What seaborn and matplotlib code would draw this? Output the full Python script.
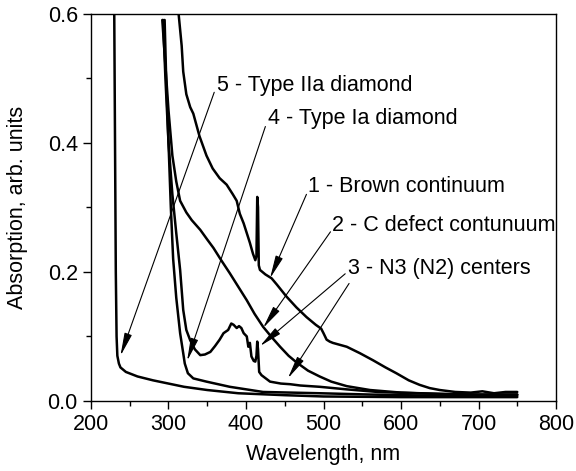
import numpy as np
import pandas as pd
import seaborn as sns
import matplotlib.pyplot as plt

# Absorption spectra
wl_1 = [313, 315, 317, 319, 323, 328, 332, 340, 349, 357, 366, 375, 383, 388, 392, 397,
        401, 405, 409, 412, 413.5, 414.5, 415.5, 416.5, 418, 425, 433, 440, 452, 465, 478,
        490, 497, 500, 504, 508, 512, 530, 547, 564, 580, 594, 610, 624, 637, 650, 670,
        690, 705, 720, 735, 750]
abs_1 = [0.60, 0.575, 0.55, 0.51, 0.475, 0.455, 0.445, 0.41, 0.38, 0.36, 0.345, 0.335, 0.32,
         0.31, 0.29, 0.275, 0.26, 0.245, 0.228, 0.218, 0.225, 0.316, 0.30, 0.21, 0.203, 0.196,
         0.19, 0.18, 0.162, 0.145, 0.13, 0.118, 0.112, 0.105, 0.095, 0.092, 0.09, 0.084,
         0.074, 0.063, 0.052, 0.043, 0.032, 0.025, 0.020, 0.017, 0.014, 0.013, 0.015, 0.012,
         0.014, 0.014]

wl_2 = [292, 296, 300, 305, 310, 315, 323, 330, 341, 350, 358, 368, 379, 390, 401, 411, 422,
        433, 444, 455, 465, 480, 495, 510, 530, 560, 600, 650, 700, 750]
abs_2 = [0.59, 0.52, 0.45, 0.38, 0.34, 0.31, 0.292, 0.28, 0.265, 0.25, 0.237, 0.218, 0.198,
         0.177, 0.156, 0.135, 0.115, 0.099, 0.084, 0.07, 0.06, 0.047, 0.038, 0.03, 0.023,
         0.017, 0.013, 0.011, 0.010, 0.010]

wl_3 = [293, 296, 300, 305, 310, 315, 319, 323, 328, 334, 341, 347, 354, 360, 366, 371, 377,
        381, 384, 388, 391, 394, 397, 401, 403, 405, 407, 410, 412, 413.5, 414.5, 415.5, 417,
        420, 431, 445, 457, 470, 495, 530, 570, 620, 680, 750]
abs_3 = [0.59, 0.5, 0.4, 0.32, 0.26, 0.203, 0.141, 0.11, 0.094, 0.08, 0.071, 0.072, 0.076,
         0.085, 0.095, 0.105, 0.11, 0.12, 0.118, 0.113, 0.116, 0.113, 0.105, 0.10, 0.084,
         0.09, 0.069, 0.062, 0.061, 0.07, 0.092, 0.08, 0.045, 0.04, 0.030, 0.027, 0.026,
         0.024, 0.022, 0.018, 0.014, 0.012, 0.010, 0.010]

wl_4 = [295, 297, 300, 303, 306, 310, 315, 319, 321, 325, 332, 349, 379, 422, 495, 560, 650,
        750]
abs_4 = [0.59, 0.5, 0.4, 0.3, 0.22, 0.16, 0.105, 0.074, 0.058, 0.043, 0.035, 0.030, 0.022,
         0.014, 0.012, 0.010, 0.008, 0.008]

wl_5 = [230, 231, 232, 233, 234, 236, 238, 245, 260, 280, 300, 320, 350, 390, 450, 500, 600,
        700, 750]
abs_5 = [0.60, 0.40, 0.20, 0.10, 0.07, 0.058, 0.052, 0.045, 0.038, 0.032, 0.027, 0.022, 0.017,
         0.012, 0.009, 0.007, 0.006, 0.006, 0.006]

labels = ['1 - Brown continuum', '2 - C defect contunuum', '3 - N3 (N2) centers',
          '4 - Type Ia diamond', '5 - Type IIa diamond']

sns.set_style('ticks')
plt.rcParams['font.family'] = ['Liberation Sans', 'DejaVu Sans']
plt.rcParams['font.size'] = 15.5
plt.rcParams['text.color'] = 'black'
plt.rcParams['axes.labelcolor'] = 'black'

fig = plt.figure(figsize=(5.76, 4.71), dpi=100)
ax = fig.add_axes([91 / 576, 1 - 401 / 471, 465 / 576, 387.5 / 471])

curves = [(wl_1, abs_1), (wl_2, abs_2), (wl_3, abs_3), (wl_4, abs_4), (wl_5, abs_5)]
for (w, a), lab in zip(curves, labels):
    df = pd.DataFrame({'wl': w, 'abs': a})
    sns.lineplot(data=df, x='wl', y='abs', ax=ax, color='black', lw=1.8,
                 estimator=None, sort=False)

# labels and arrows
arrow = dict(arrowstyle='-|>,head_length=0.9,head_width=0.15', color='black', lw=0.8,
             shrinkA=0, shrinkB=0)
ax.text(362, 0.489, labels[4], ha='left', va='center')
ax.annotate('', xy=(238, 0.07), xytext=(359, 0.478), arrowprops=arrow)
ax.text(429, 0.438, labels[3], ha='left', va='center')
ax.annotate('', xy=(324, 0.062), xytext=(425, 0.425), arrowprops=arrow)
ax.text(480, 0.332, labels[0], ha='left', va='center')
ax.annotate('', xy=(431, 0.19), xytext=(478, 0.32), arrowprops=arrow)
ax.text(511, 0.271, labels[1], ha='left', va='center')
ax.annotate('', xy=(422, 0.113), xytext=(509, 0.262), arrowprops=arrow)
ax.text(532, 0.2055, labels[2], ha='left', va='center')
ax.annotate('', xy=(418, 0.085), xytext=(528, 0.197), arrowprops=arrow)
ax.annotate('', xy=(454, 0.035), xytext=(533, 0.182), arrowprops=arrow)

ax.set_xlim(200, 800)
ax.set_ylim(0, 0.6)
ax.set_xticks([200, 300, 400, 500, 600, 700, 800])
ax.set_xticks(np.arange(250, 800, 100), minor=True)
ax.set_yticks([0.0, 0.2, 0.4, 0.6])
ax.set_yticks([0.1, 0.3, 0.5], minor=True)
ax.yaxis.set_major_formatter(plt.FormatStrFormatter('%.1f'))
ax.tick_params(which='major', direction='out', length=6, width=1, colors='black')
ax.tick_params(which='minor', direction='out', length=3.5, width=1, colors='black')
for s in ax.spines.values():
    s.set_visible(True)
    s.set_linewidth(1)
    s.set_color('black')

ax.set_xlabel('Wavelength, nm', labelpad=6)
ax.set_ylabel('Absorption, arb. units')
ax.yaxis.set_label_coords(-0.135, 0.5)

fig.savefig('out.png', dpi=100)
